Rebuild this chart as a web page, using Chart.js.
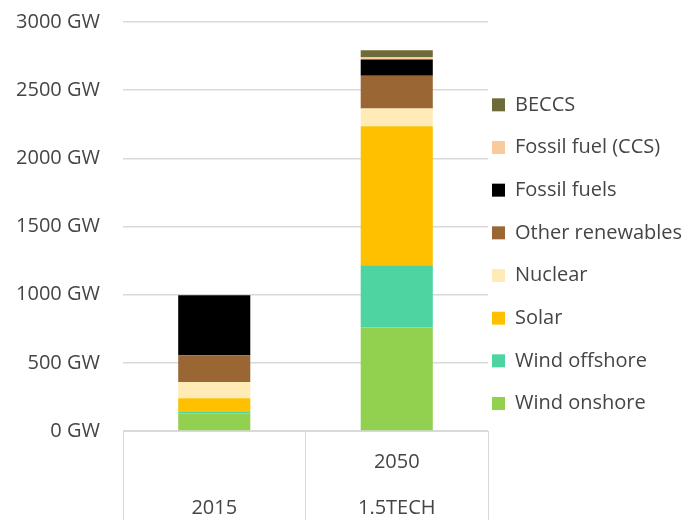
<!DOCTYPE html>
<html>
<head>
<meta charset="utf-8">
<script src="https://cdn.jsdelivr.net/npm/chart.js@4.4.1/dist/chart.umd.min.js"></script>
<style>
  body { margin: 0; background: #fff; }
  #wrap { width: 685px; height: 520px; }
</style>
</head>
<body>
<div id="wrap"><canvas id="capChart"></canvas></div>
<script>
// categories (inner level, outer level)
const categories = [['', '2015'], ['2050', '1.5TECH']];
const yTicks = [0, 500, 1000, 1500, 2000, 2500, 3000];

// installed capacity in GW, bottom of the stack first
const windOnshore = [130, 760];
const windOffshore = [10, 455];
const solar = [100, 1020];
const nuclear = [120, 130];
const otherRenewables = [195, 240];
const fossilFuels = [440, 120];
const fossilCCS = [0, 17];
const beccs = [0, 50];

const FONT = 'Open Sans';
const GRID = '#d9d9d9';
const TEXT = '#454545';

function ds(label, data, color) {
  return { label: label, data: data, backgroundColor: color, borderWidth: 0 };
}

const capChart = new Chart(document.getElementById('capChart').getContext('2d'), {
  type: 'bar',
  data: {
    labels: categories,
    datasets: [
      ds('Wind onshore', windOnshore, '#92d050'),
      ds('Wind offshore', windOffshore, '#4dd4a0'),
      ds('Solar', solar, '#ffc000'),
      ds('Nuclear', nuclear, '#ffebb5'),
      ds('Other renewables', otherRenewables, '#9a6633'),
      ds('Fossil fuels', fossilFuels, '#000000'),
      ds('Fossil fuel (CCS)', fossilCCS, '#f9cb9c'),
      ds('BECCS', beccs, '#6d6b37'),
    ],
  },
  options: {
    responsive: true,
    maintainAspectRatio: false,
    animation: false,
    barPercentage: 0.395,
    categoryPercentage: 1,
    layout: { padding: { top: 7, bottom: 0, left: 0, right: 0 } },
    plugins: {
      tooltip: { enabled: false },
      legend: {
        position: 'right',
        align: 'center',
        reverse: true,
        maxWidth: 197,
        labels: {
          boxWidth: 13,
          boxHeight: 13,
          padding: 4,
          color: TEXT,
          font: { family: FONT, size: 20, lineHeight: '38.67px' },
          // array text so the row height follows the font lineHeight
          generateLabels: (chart) => Chart.defaults.plugins.legend.labels.generateLabels(chart)
            .map(item => Object.assign(item, { text: [item.text] })),
        },
      },
    },
    scales: {
      x: {
        stacked: true,
        afterFit: (scale) => {
          scale.height = 89;
          scale.paddingLeft = 0;
          scale.paddingRight = 0;
        },
        grid: { offset: true, drawOnChartArea: false, color: GRID, tickLength: 89 },
        border: { display: true, color: GRID },
        ticks: {
          color: TEXT,
          font: { family: FONT, size: 20, lineHeight: '46.5px' },
          padding: -81,
          maxRotation: 0,
          autoSkip: false,
        },
      },
      y: {
        stacked: true,
        min: 0,
        max: 3000,
        afterFit: (scale) => {
          scale.width = 123;
          scale.paddingTop = 22;
          scale.paddingBottom = 0;
        },
        afterBuildTicks: (scale) => { scale.ticks = yTicks.map(v => ({ value: v })); },
        grid: { color: GRID, lineWidth: 1.5, drawTicks: false },
        border: { display: false },
        ticks: {
          color: TEXT,
          font: { family: FONT, size: 20 },
          padding: 23,
          callback: (v) => v + ' GW',
        },
      },
    },
  },
});
</script>
</body>
</html>
